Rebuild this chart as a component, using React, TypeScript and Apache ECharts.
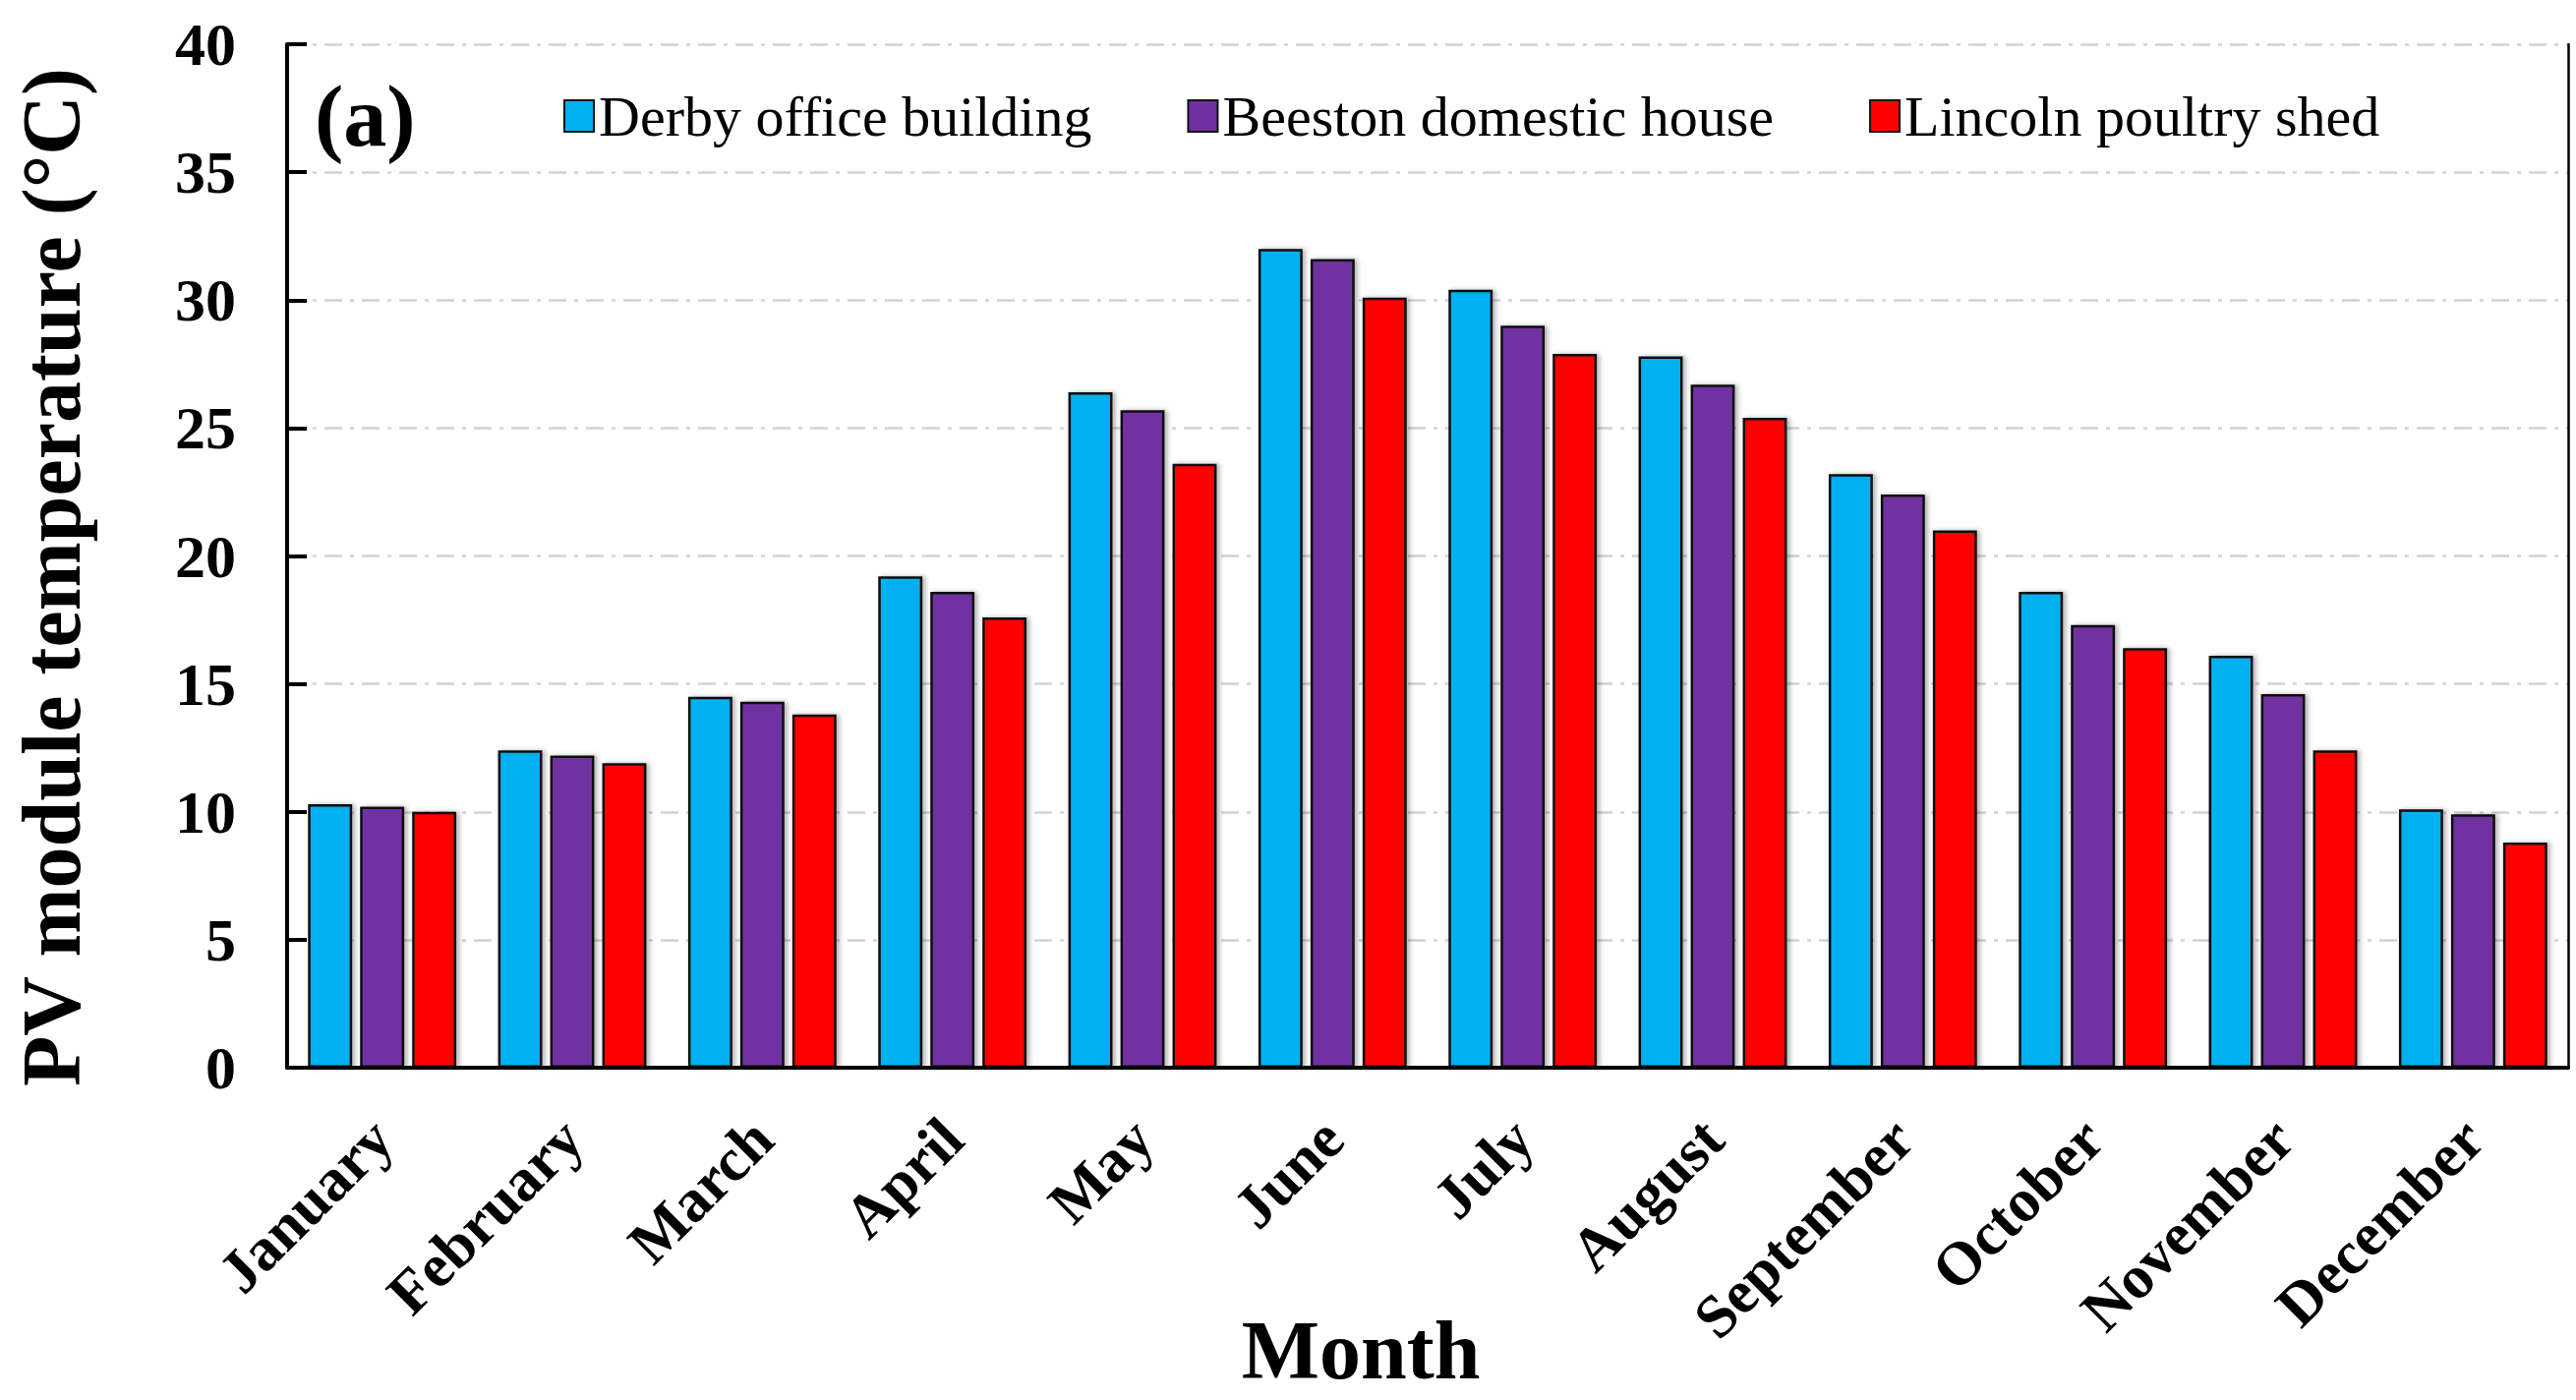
import React, { useEffect, useRef } from "react";
import * as echarts from "echarts";

const months = ["January", "February", "March", "April", "May", "June", "July", "August", "September", "October", "November", "December"];
const derby = [10.3, 12.4, 14.5, 19.2, 26.4, 32.0, 30.4, 27.8, 23.2, 18.6, 16.1, 10.1];
const beeston = [10.2, 12.2, 14.3, 18.6, 25.7, 31.6, 29.0, 26.7, 22.4, 17.3, 14.6, 9.9];
const lincoln = [10.0, 11.9, 13.8, 17.6, 23.6, 30.1, 27.9, 25.4, 21.0, 16.4, 12.4, 8.8];
const seriesNames = ["Derby office building", "Beeston domestic house", "Lincoln poultry shed"];
const seriesColors = ["#00B0F0", "#7030A0", "#FF0000"];

const FONT = "'Times New Roman', 'Liberation Serif', serif";

export default function App() {
  const ref = useRef<HTMLDivElement>(null);
  useEffect(() => {
    document.body.style.margin = "0";
    const chart = echarts.init(ref.current!, null, { renderer: "svg" });
    const data = [derby, beeston, lincoln];
    chart.setOption({
      animation: false,
      backgroundColor: "#ffffff",
      grid: {
        left: 292,
        right: 8,
        top: 45,
        bottom: 338,
      },
      legend: {
        left: 568,
        top: 84,
        itemWidth: 30,
        itemHeight: 32,
        itemGap: 97,
        textStyle: { fontFamily: FONT, fontSize: 58, color: "#000" },
        data: seriesNames.map((name) => ({ name, icon: "rect" })),
      },
      xAxis: [
        {
          type: "category",
          data: months,
          axisLine: { lineStyle: { color: "#000", width: 4 } },
          axisTick: { show: false },
          axisLabel: {
            rotate: 45,
            interval: 0,
            margin: 62,
            fontFamily: FONT,
            fontWeight: "bold",
            fontSize: 62,
            color: "#000",
          },
          z: 5,
        },
        {
          type: "category",
          data: months,
          position: "top",
          axisLine: { show: true, lineStyle: { color: "#000", width: 3.5 } },
          axisTick: { show: false },
          axisLabel: { show: false },
          splitLine: { show: false },
          z: 5,
        },
      ],
      yAxis: [
        {
          type: "value",
          min: 0,
          max: 40,
          interval: 5,
          axisLine: { show: true, lineStyle: { color: "#000", width: 4 } },
          axisTick: { show: true, inside: true, length: 20, lineStyle: { color: "#000", width: 4 } },
          axisLabel: {
            margin: 52,
            fontFamily: FONT,
            fontWeight: "bold",
            fontSize: 62,
            color: "#000",
          },
          splitLine: {
            show: true,
            lineStyle: { color: "#d2d2d2", width: 2.5, type: [18, 8, 4, 8] },
          },
        },
        {
          type: "value",
          min: 0,
          max: 40,
          interval: 5,
          position: "right",
          axisLine: { show: true, lineStyle: { color: "#000", width: 2.5 } },
          axisTick: { show: false },
          axisLabel: { show: false },
          splitLine: { show: false },
          z: 5,
        },
      ],
      series: seriesNames.map((name, i) => ({
        name,
        type: "bar",
        data: data[i],
        barCategoryGap: "22%",
        barGap: "18%",
        itemStyle: {
          color: seriesColors[i],
          borderColor: "#111",
          borderWidth: 2.5,
          shadowColor: "rgba(0,0,0,0.3)",
          shadowBlur: 5,
          shadowOffsetX: 3,
          shadowOffsetY: 0,
        },
      })),
      graphic: [
        {
          type: "text",
          x: 320,
          y: 118,
          style: {
            text: "(a)",
            fontFamily: FONT,
            fontWeight: "bold",
            fontSize: 88,
            fill: "#000",
            textAlign: "left",
            textVerticalAlign: "middle",
          },
        },
        {
          type: "text",
          x: 1384,
          y: 1373,
          style: {
            text: "Month",
            fontFamily: FONT,
            fontWeight: "bold",
            fontSize: 84,
            fill: "#000",
            textAlign: "center",
            textVerticalAlign: "middle",
          },
        },
        {
          type: "text",
          x: 52,
          y: 587,
          rotation: Math.PI / 2,
          style: {
            text: "PV module temperature (°C)",
            fontFamily: FONT,
            fontWeight: "bold",
            fontSize: 84,
            fill: "#000",
            textAlign: "center",
            textVerticalAlign: "middle",
          },
        },
      ],
    });
    return () => chart.dispose();
  }, []);
  return <div ref={ref} style={{ width: 2620, height: 1424 }} />;
}
